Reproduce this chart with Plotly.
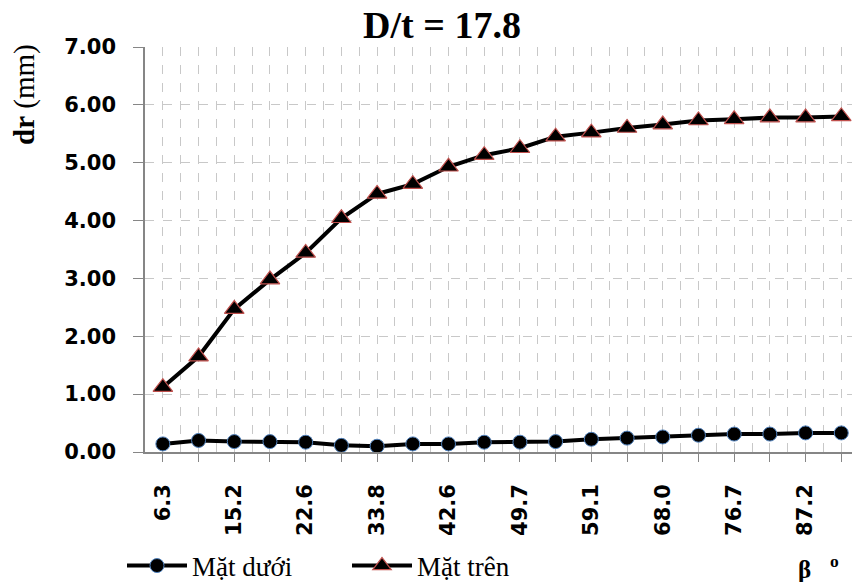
import plotly.graph_objects as go

x_labels = ["6.3", "", "15.2", "", "22.6", "", "33.8", "", "42.6", "",
            "49.7", "", "59.1", "", "68.0", "", "76.7", "", "87.2", ""]
mat_duoi = [0.14, 0.20, 0.18, 0.18, 0.17, 0.115, 0.10, 0.14, 0.14, 0.17,
            0.17, 0.18, 0.22, 0.24, 0.26, 0.29, 0.31, 0.31, 0.33, 0.33]
mat_tren = [1.12, 1.65, 2.47, 2.98, 3.44, 4.04, 4.46, 4.63, 4.93, 5.13,
            5.25, 5.45, 5.52, 5.60, 5.66, 5.73, 5.75, 5.78, 5.78, 5.80]
series_names = ["Mặt dưới", "Mặt trên"]
title_text = "D/t = 17.8"

idx = list(range(len(x_labels)))

W, H = 852, 582
ml, mr, mt, mb = 145, 0, 47, 130
pw = W - ml - mr
ph = H - mt - mb

fig = go.Figure()
fig.add_trace(go.Scatter(
    x=idx, y=mat_duoi, name=series_names[0], mode="lines+markers",
    line=dict(color="black", width=4),
    marker=dict(symbol="circle", size=14, color="black",
                line=dict(color="#4F81BD", width=1)),
))
fig.add_trace(go.Scatter(
    x=idx, y=mat_tren, name=series_names[1], mode="lines+markers",
    line=dict(color="black", width=4),
    marker=dict(symbol="triangle-up", size=17, color="black",
                line=dict(color="#C0504D", width=1.2)),
))

grid_col = "#C8C8C8"
tick_font = dict(family="DejaVu Sans", size=21, color="black", weight="bold")
fig.update_layout(
    width=W, height=H,
    margin=dict(l=ml, r=mr, t=mt, b=mb, autoexpand=False),
    paper_bgcolor="white", plot_bgcolor="white",
    title=dict(text="<b>" + title_text + "</b>", x=442 / W, xanchor="center",
               y=1 - 25 / H, yanchor="middle",
               font=dict(family="Liberation Serif", size=38, color="black")),
    xaxis=dict(
        range=[-0.5, 19.3], tickmode="array", tickvals=idx, ticktext=x_labels,
        tickangle=-90, ticks="outside", ticklen=8, tickcolor="#868686",
        ticklabelstandoff=14, automargin=False,
        showline=True, linecolor="#868686", linewidth=1.5,
        showgrid=True, gridcolor=grid_col, griddash="dash", gridwidth=1,
        minor=dict(dtick=0.5, tick0=-0.5, showgrid=True, gridcolor=grid_col,
                   griddash="dash", gridwidth=1, ticks=""),
        zeroline=False,
        tickfont=tick_font,
    ),
    yaxis=dict(
        range=[0, 7], dtick=1, tickformat=".2f",
        ticks="outside", ticklen=10, tickcolor="#868686",
        ticklabelstandoff=13, automargin=False,
        showline=True, linecolor="#868686", linewidth=1.5,
        showgrid=True, gridcolor=grid_col, griddash="dash", gridwidth=1,
        zeroline=False,
        tickfont=tick_font,
    ),
    showlegend=True,
    legend=dict(orientation="h", x=(122 - ml) / pw, xanchor="left",
                y=(mt + ph - 566) / ph, yanchor="middle",
                itemwidth=60,
                entrywidth=150, entrywidthmode="pixels",
                font=dict(family="Liberation Serif", size=27, color="black"),
                bgcolor="rgba(0,0,0,0)"),
)

fig.add_annotation(
    text="<b>dr</b> (mm)", textangle=-90, showarrow=False,
    xref="paper", yref="paper",
    x=(25 - ml) / pw, y=(mt + ph - 95) / ph, xanchor="center", yanchor="middle",
    font=dict(family="Liberation Serif", size=29, color="black"),
)
fig.add_annotation(
    text="<b>β   <sup>o</sup></b>", showarrow=False,
    xref="paper", yref="paper",
    x=(818 - ml) / pw, y=(mt + ph - 567) / ph, xanchor="center", yanchor="middle",
    font=dict(family="Liberation Serif", size=25, color="black"),
)

fig.write_html("out.html", config={"displayModeBar": False},
               post_script="document.body.style.margin='0';document.body.style.padding='0';")
